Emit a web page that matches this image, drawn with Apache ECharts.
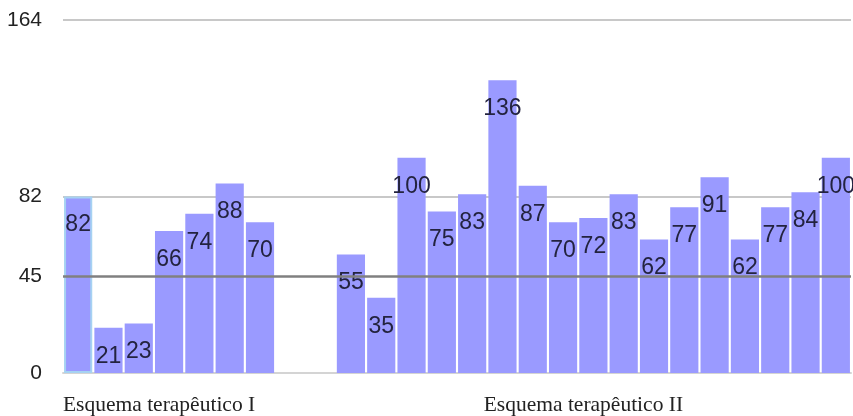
<!DOCTYPE html>
<html>
<head>
<meta charset="utf-8">
<script src="https://cdn.jsdelivr.net/npm/echarts@6/dist/echarts.min.js"></script>
<style>
  html, body { margin: 0; padding: 0; background: #ffffff; }
  #chart { width: 853px; height: 416px; }
</style>
</head>
<body>
<div id="chart"></div>
<script>
// Treatment schemes and the values of each bar
const groupNames = ['Esquema terapêutico I', 'Esquema terapêutico II'];
const groupI = [82, 21, 23, 66, 74, 88, 70];
const groupII = [55, 35, 100, 75, 83, 136, 87, 70, 72, 83, 62, 77, 91, 62, 77, 84, 100];
const emptySlots = 2;          // blank space between the two schemes
const yTicks = [0, 45, 82, 164];
const gridValues = [82, 164];
const referenceValue = 45;
const yMax = 164;

// Build one category per slot, including the blank slots
const slots = [];
const values = [];
const groupLabelAt = {};
groupI.forEach(v => { slots.push(String(slots.length)); values.push(v); });
groupLabelAt[Math.floor((groupI.length - 1) / 2)] = groupNames[0];
for (let i = 0; i < emptySlots; i++) { slots.push(String(slots.length)); values.push('-'); }
const startII = slots.length;
groupII.forEach(v => { slots.push(String(slots.length)); values.push(v); });
groupLabelAt[startII + Math.floor(groupII.length / 2)] = groupNames[1];

const barColor = '#9a9aff';
const barData = values.map((v, i) => {
  if (i === 0) {
    return { value: v, itemStyle: { borderColor: '#a6d2f2', borderWidth: 2 } };
  }
  return v;
});

const chart = echarts.init(document.getElementById('chart'), null, { renderer: 'canvas' });
chart.setOption({
  animation: false,
  backgroundColor: '#ffffff',
  grid: { left: 63, right: 2, top: 20, bottom: 43, containLabel: false, outerBoundsMode: 'none' },
  xAxis: {
    type: 'category',
    data: slots,
    axisLine: { show: true, lineStyle: { color: '#d4d4d4', width: 2 } },
    axisTick: { show: false },
    axisLabel: {
      interval: 0,
      margin: 21,
      fontFamily: '"Liberation Serif", "Times New Roman", serif',
      fontSize: 21.5,
      color: '#222222',
      padding: [0, 20, 0, 0],
      formatter: (val, idx) => groupLabelAt[idx] || ''
    }
  },
  yAxis: {
    type: 'value',
    min: 0,
    max: yMax,
    axisLine: { show: false },
    axisTick: { show: false },
    splitLine: { show: false },
    axisLabel: {
      customValues: yTicks,
      margin: 21,
      fontFamily: '"Liberation Sans", Arial, sans-serif',
      fontSize: 21,
      color: '#222222'
    }
  },
  series: [
    {
      // light horizontal gridlines, drawn behind the bars
      type: 'line',
      data: [],
      silent: true,
      z: 1,
      markLine: {
        silent: true,
        z: 1,
        symbol: 'none',
        label: { show: false },
        lineStyle: { color: '#c8c8c8', width: 2, type: 'solid' },
        data: gridValues.map(v => ({ yAxis: v }))
      }
    },
    {
      type: 'bar',
      data: barData,
      barCategoryGap: '7%',
      itemStyle: { color: barColor },
      z: 2,
      label: {
        show: true,
        position: 'insideTop',
        distance: 17,
        fontFamily: '"Liberation Sans", Arial, sans-serif',
        fontSize: 23,
        color: '#23233f'
      },
      markLine: {
        silent: true,
        z: 5,
        symbol: 'none',
        label: { show: false },
        lineStyle: { color: '#808080', width: 2.5, type: 'solid' },
        data: [{ yAxis: referenceValue }]
      }
    }
  ]
});
</script>
</body>
</html>
